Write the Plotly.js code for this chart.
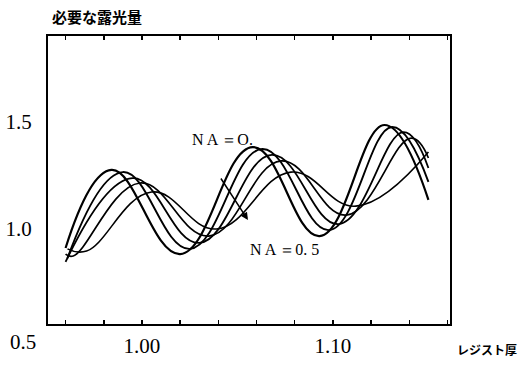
<!DOCTYPE html>
<html>
<head>
<meta charset="utf-8">
<script src="https://cdn.plot.ly/plotly-3.0.1.min.js"></script>
<style>html,body{margin:0;padding:0;background:#fff;}#chart{width:522px;height:367px;}</style>
</head>
<body>
<div id="chart"></div>
<script>
// Resist thickness (x) vs required exposure (y), one curve per NA
const seriesNames = ["NA=0", "NA=0.1", "NA=0.2", "NA=0.3", "NA=0.5"];
const A_x = [0.960, 0.984, 1.020, 1.058, 1.093, 1.127, 1.150];
const A_y = [0.911, 1.276, 0.883, 1.383, 0.967, 1.486, 1.136];
const B_x = [0.961, 0.990, 1.025, 1.063, 1.098, 1.131, 1.150];
const B_y = [0.864, 1.266, 0.907, 1.374, 0.995, 1.477, 1.220];
const C_x = [0.960, 0.995, 1.030, 1.068, 1.103, 1.137, 1.150];
const C_y = [0.846, 1.238, 0.935, 1.346, 1.023, 1.453, 1.285];
const D_x = [0.960, 0.964, 0.999, 1.035, 1.073, 1.107, 1.141, 1.150];
const D_y = [0.883, 0.874, 1.215, 0.967, 1.318, 1.065, 1.425, 1.332];
const E_x = [0.961, 0.971, 1.005, 1.039, 1.078, 1.112, 1.150];
const E_y = [0.907, 0.897, 1.173, 1.000, 1.266, 1.107, 1.360];

const xTickVals = [1.00, 1.10];
const xTickText = ["1.00", "1.10"];
const yTickVals = [1.0, 1.5];
const yTickText = ["1.0", "1.5"];

const xs = [A_x, B_x, C_x, D_x, E_x];
const ys = [A_y, B_y, C_y, D_y, E_y];
const widths = [2.2, 1.9, 1.8, 1.7, 1.6];

const traces = xs.map((x, i) => ({
  x: x, y: ys[i], name: seriesNames[i], type: "scatter", mode: "lines",
  line: {color: "#000", width: widths[i], shape: "spline", smoothing: 1.2},
  hoverinfo: "skip"
}));

const serif = "'Liberation Serif', 'DejaVu Serif', serif";
const cjk = "'Noto Sans CJK JP', sans-serif";

const layout = {
  width: 522, height: 367,
  margin: {l: 48, r: 72, t: 36, b: 43},
  paper_bgcolor: "#fff", plot_bgcolor: "#fff",
  showlegend: false,
  xaxis: {
    range: [0.9508, 1.1613], showgrid: false, zeroline: false,
    showline: true, linecolor: "#000", linewidth: 2, mirror: "ticks",
    tickmode: "array", tickvals: xTickVals, ticktext: xTickText,
    ticks: "inside", ticklen: 4, tickcolor: "#000", tickwidth: 1.5,
    minor: {dtick: 0.02, tick0: 1.0, ticks: "inside", ticklen: 4, tickcolor: "#000", tickwidth: 1.5, showgrid: false},
    tickfont: {family: serif, size: 21, color: "#000"},
    ticklabelstandoff: 2
  },
  yaxis: {
    range: [0.556, 1.902], showgrid: false, zeroline: false,
    showline: true, linecolor: "#000", linewidth: 2, mirror: true,
    tickmode: "array", tickvals: yTickVals, ticktext: yTickText,
    ticks: "", tickfont: {family: serif, size: 21, color: "#000"},
    ticklabelstandoff: 10
  },
  annotations: [
    {text: "<b>必要な露光量</b>", xref: "paper", yref: "paper", x: 0.005, y: 1.069,
     xanchor: "left", yanchor: "middle", showarrow: false,
     font: {family: cjk, size: 15, color: "#000"}},
    {text: "<b>レジスト厚</b>", xref: "paper", yref: "paper", x: 1.172, y: -0.09,
     xanchor: "right", yanchor: "middle", showarrow: false,
     font: {family: cjk, size: 12, color: "#000"}},
    {text: "0.5", xref: "paper", yref: "paper", x: -0.062, y: -0.0625,
     xanchor: "center", yanchor: "middle", showarrow: false,
     font: {family: serif, size: 21, color: "#000"}},
    {text: "N A ＝O.", xref: "paper", yref: "paper", x: 0.353, y: 0.642,
     xanchor: "left", yanchor: "middle", showarrow: false,
     font: {family: serif, size: 16, color: "#000"}},
    {text: "N A ＝0. 5", xref: "paper", yref: "paper", x: 0.4975, y: 0.257,
     xanchor: "left", yanchor: "middle", showarrow: false,
     font: {family: serif, size: 16, color: "#000"}},
    {text: "", x: 1.0555, y: 1.042, xref: "x", yref: "y", showarrow: true,
     ax: -28, ay: -43, arrowhead: 2, arrowsize: 1, arrowwidth: 1.5, arrowcolor: "#000"}
  ]
};

Plotly.newPlot("chart", traces, layout, {staticPlot: true, displayModeBar: false});
</script>
</body>
</html>
